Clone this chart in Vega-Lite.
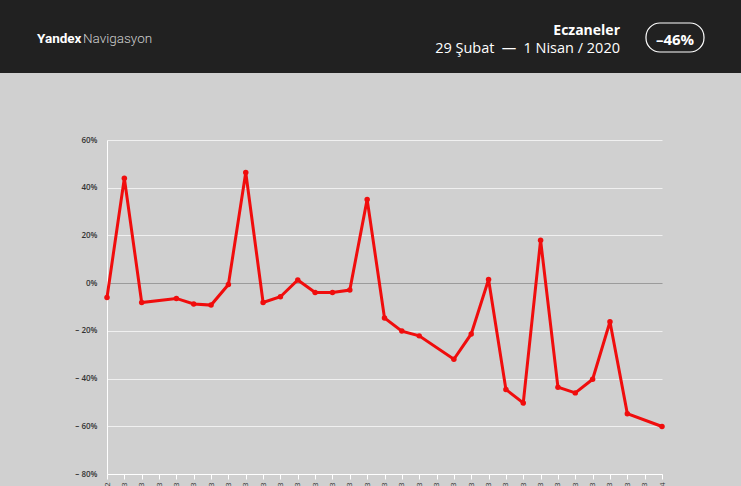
{
  "$schema": "https://vega.github.io/schema/vega-lite/v6.json",
  "width": 555,
  "height": 334,
  "padding": {"left": 107, "top": 140, "right": 79, "bottom": 12},
  "autosize": {"type": "none"},
  "background": "#d0d0d0",
  "config": {"view": {"stroke": null}},
  "data": {
    "values": [
      {"tarih": "2020-02-29", "degisim": -6.0},
      {"tarih": "2020-03-01", "degisim": 44.0},
      {"tarih": "2020-03-02", "degisim": -8.1},
      {"tarih": "2020-03-04", "degisim": -6.4},
      {"tarih": "2020-03-05", "degisim": -8.7},
      {"tarih": "2020-03-06", "degisim": -9.2},
      {"tarih": "2020-03-07", "degisim": -0.6},
      {"tarih": "2020-03-08", "degisim": 46.4},
      {"tarih": "2020-03-09", "degisim": -8.1},
      {"tarih": "2020-03-10", "degisim": -5.7},
      {"tarih": "2020-03-11", "degisim": 1.3},
      {"tarih": "2020-03-12", "degisim": -3.9},
      {"tarih": "2020-03-13", "degisim": -3.9},
      {"tarih": "2020-03-14", "degisim": -2.9},
      {"tarih": "2020-03-15", "degisim": 35.1},
      {"tarih": "2020-03-16", "degisim": -14.6},
      {"tarih": "2020-03-17", "degisim": -20.1},
      {"tarih": "2020-03-18", "degisim": -22.1},
      {"tarih": "2020-03-20", "degisim": -31.9},
      {"tarih": "2020-03-21", "degisim": -21.3},
      {"tarih": "2020-03-22", "degisim": 1.5},
      {"tarih": "2020-03-23", "degisim": -44.6},
      {"tarih": "2020-03-24", "degisim": -50.2},
      {"tarih": "2020-03-25", "degisim": 18.0},
      {"tarih": "2020-03-26", "degisim": -43.6},
      {"tarih": "2020-03-27", "degisim": -46.0},
      {"tarih": "2020-03-28", "degisim": -40.3},
      {"tarih": "2020-03-29", "degisim": -16.2},
      {"tarih": "2020-03-30", "degisim": -54.7},
      {"tarih": "2020-04-01", "degisim": -60.1}
    ]
  },
  "layer": [
    {
      "mark": {"type": "line", "color": "#f00d0d", "strokeWidth": 3, "point": {"filled": true, "size": 30, "color": "#f00d0d"}},
      "encoding": {
        "x": {
          "field": "tarih", "type": "temporal",
          "scale": {"type": "utc", "domain": [{"year": 2020, "month": 2, "date": 29, "utc": true}, {"year": 2020, "month": 4, "date": 1, "utc": true}], "nice": false},
          "axis": {"title": null, "grid": false, "tickCount": {"interval": "day", "step": 1}, "format": "%d.%m", "labelAngle": 270, "labelOverlap": false, "tickColor": "#ffffff", "tickSize": 5, "domainColor": "#ffffff", "labelFontSize": 8, "labelColor": "#333333", "labelPadding": 3, "labelFont": "Open Sans"}
        },
        "y": {
          "field": "degisim", "type": "quantitative",
          "scale": {"domain": [-80, 60], "nice": false, "zero": false},
          "axis": {
            "title": null,
            "values": [-80, -60, -40, -20, 0, 20, 40, 60],
            "labelExpr": "datum.value < 0 ? '– ' + abs(datum.value) + '%' : datum.value + '%'",
            "ticks": false, "labelPadding": 10,
            "labelFont": "Open Sans", "labelFontSize": 8, "labelFontWeight": 600, "labelColor": "#333333",
            "domainColor": "#ffffff", "domainWidth": 1,
            "gridColor": {"condition": {"test": "datum.value === 0", "value": "#9b9b9b"}, "value": "#f0f0f0"},
            "gridWidth": 1
          }
        }
      }
    },
    {
      "data": {"values": [{}]},
      "mark": {"type": "rect", "color": "#212121"},
      "encoding": {
        "x": {"datum": {"year": 2020, "month": 2, "date": 15, "utc": true}, "type": "temporal"},
        "x2": {"datum": {"year": 2020, "month": 4, "date": 15, "utc": true}},
        "y": {"datum": 88.08, "type": "quantitative"},
        "y2": {"datum": 130}
      }
    },
    {
      "data": {"values": [{}]},
      "mark": {"type": "text", "text": "Yandex", "align": "left", "baseline": "alphabetic", "font": "Roboto", "fontSize": 13.5, "fontWeight": "bold", "color": "#ffffff"},
      "encoding": {
        "x": {"datum": {"year": 2020, "month": 2, "date": 24, "hours": 23, "minutes": 8, "utc": true}, "type": "temporal"},
        "y": {"datum": 100.66, "type": "quantitative"}
      }
    },
    {
      "data": {"values": [{}]},
      "mark": {"type": "text", "text": "Navigasyon", "align": "left", "baseline": "alphabetic", "font": "Roboto", "fontSize": 13.5, "fontWeight": 300, "color": "#d0d0d0"},
      "encoding": {
        "x": {"datum": {"year": 2020, "month": 2, "date": 27, "hours": 14, "minutes": 47, "utc": true}, "type": "temporal"},
        "y": {"datum": 100.66, "type": "quantitative"}
      }
    },
    {
      "data": {"values": [{}]},
      "mark": {"type": "text", "text": "Eczaneler", "align": "right", "baseline": "alphabetic", "font": "Open Sans", "fontSize": 14, "fontWeight": "bold", "color": "#ffffff"},
      "encoding": {
        "x": {"datum": {"year": 2020, "month": 3, "date": 29, "hours": 13, "minutes": 52, "utc": true}, "type": "temporal"},
        "y": {"datum": 104.01, "type": "quantitative"}
      }
    },
    {
      "data": {"values": [{}]},
      "mark": {"type": "text", "text": "29 Şubat\u2002—\u20021 Nisan / 2020", "align": "right", "baseline": "alphabetic", "font": "Open Sans", "fontSize": 14.5, "fontWeight": "normal", "color": "#ffffff"},
      "encoding": {
        "x": {"datum": {"year": 2020, "month": 3, "date": 29, "hours": 13, "minutes": 52, "utc": true}, "type": "temporal"},
        "y": {"datum": 96.26, "type": "quantitative"}
      }
    },
    {
      "data": {"values": [{}]},
      "mark": {"type": "rect", "fill": null, "fillOpacity": 0, "stroke": "#ffffff", "strokeWidth": 1.2, "cornerRadius": 14},
      "encoding": {
        "x": {"datum": {"year": 2020, "month": 3, "date": 31, "hours": 1, "minutes": 51, "utc": true}, "type": "temporal"},
        "x2": {"datum": {"year": 2020, "month": 4, "date": 3, "hours": 10, "minutes": 5, "utc": true}},
        "y": {"datum": 96.89, "type": "quantitative"},
        "y2": {"datum": 109.04}
      }
    },
    {
      "data": {"values": [{}]},
      "mark": {"type": "text", "text": "–46%", "align": "center", "baseline": "alphabetic", "font": "Open Sans", "fontSize": 15, "fontWeight": "bold", "color": "#ffffff"},
      "encoding": {
        "x": {"datum": {"year": 2020, "month": 4, "date": 1, "hours": 18, "utc": true}, "type": "temporal"},
        "y": {"datum": 99.9, "type": "quantitative"}
      }
    }
  ]
}
